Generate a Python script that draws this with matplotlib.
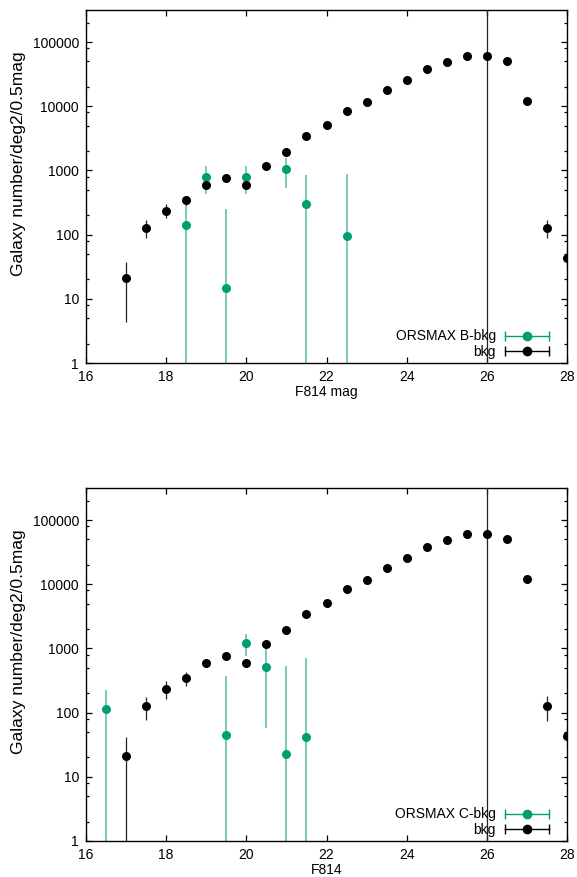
import numpy as np
import matplotlib
matplotlib.use("Agg")
import matplotlib.pyplot as plt
from matplotlib.lines import Line2D
from matplotlib.legend_handler import HandlerLine2D, HandlerTuple
from matplotlib.ticker import LogLocator, FixedLocator, NullFormatter

plt.rcParams['font.family'] = ['Liberation Sans', 'DejaVu Sans']
plt.rcParams['font.size'] = 10

# background counts (same magnitudes in both panels)
mag_bkg = [17, 17.5, 18, 18.5, 19, 19.5, 20, 20.5, 21, 21.5, 22, 22.5, 23,
           23.5, 24, 24.5, 25, 25.5, 26, 26.5, 27, 27.5, 28]
n_bkg = [21, 128, 237, 342, 600, 753, 600, 1170, 1920, 3400, 5200, 8300, 11600,
         17800, 26000, 38000, 49000, 60000, 61500, 50000, 12200, 128, 43]
# lower / upper error limits, top panel
bkg_lo_b = [4.4, 89, 182, 290, 520, 680, 520, 1070, 1780, 3200, 4950, 7950, 11200,
            17300, 25400, 37300, 48200, 59000, 0.01, 49200, 11600, 88, 30]
bkg_hi_b = [37.6, 168, 295, 400, 680, 830, 680, 1270, 2060, 3600, 5450, 8650, 12000,
            18300, 26600, 38700, 49800, 61000, 1e8, 50800, 12800, 170, 58]
# lower / upper error limits, bottom panel
bkg_lo_c = [0.01, 77, 165, 256, 505, 670, 505, 1070, 1780, 3200, 4950, 7950, 11200,
            17300, 25400, 37300, 48200, 59000, 0.01, 49200, 11600, 75, 30]
bkg_hi_c = [42, 178, 310, 432, 680, 840, 680, 1270, 2060, 3600, 5450, 8650, 12000,
            18300, 26600, 38700, 49800, 61000, 1e8, 50800, 12800, 183, 58]

# ORSMAX B - bkg
mag_b = [18.5, 19, 19.5, 20, 21, 21.5, 22.5]
n_b = [140, 800, 15, 800, 1040, 300, 95]
b_lo = [0.01, 425, 0.01, 425, 530, 0.01, 0.01]
b_hi = [300, 1160, 254, 1160, 1550, 840, 890]

# ORSMAX C - bkg
mag_c = [16.5, 19.5, 20, 20.5, 21, 21.5]
n_c = [112, 45, 1217, 523, 23, 41]
c_lo = [0.01, 0.01, 760, 57, 0.01, 0.01]
c_hi = [228, 375, 1700, 1100, 536, 720]

green = '#009e73'
green_bar = '#7ccbb3'

fig = plt.figure(figsize=(5.77, 8.77), dpi=100)


def legend_handle(color):
    # horizontal bar with end caps and a dot, gnuplot style
    bar = Line2D([], [], color=color, lw=1.0, marker='|', markersize=7,
                 markeredgewidth=1.0)
    dot = Line2D([], [], color=color, ls='none', marker='o', markersize=7,
                 markeredgewidth=0)
    return (bar, dot), {bar: HandlerLine2D(numpoints=2, marker_pad=0),
                        dot: HandlerLine2D(numpoints=1)}


def panel(rect, mag, n, lo, hi, label, blo, bhi, xlabel):
    ax = fig.add_axes(rect)
    ax.set_yscale('log', nonpositive='clip')
    n = np.array(n)
    yerr = [n - np.array(lo), np.array(hi) - n]
    ax.errorbar(mag, n, yerr=yerr, fmt='o', color=green, ecolor=green_bar,
                elinewidth=1.4, capsize=2.5, capthick=1.0, markersize=6.5,
                markeredgewidth=0, zorder=2)
    nb = np.array(n_bkg)
    byerr = [nb - np.array(blo), np.array(bhi) - nb]
    ax.errorbar(mag_bkg, nb, yerr=byerr, fmt='o', color='black', ecolor='#222222',
                elinewidth=0.9, capsize=2, capthick=0.9, markersize=6.5,
                markeredgewidth=0, zorder=3)

    h1, m1 = legend_handle(green)
    h2, m2 = legend_handle('black')
    hmap = {tuple: HandlerTuple(ndivide=1, pad=0)}
    hmap.update(m1)
    hmap.update(m2)
    ax.legend([h1, h2], [label, 'bkg'], loc='lower right',
              bbox_to_anchor=(0.963, 0.012), frameon=False, markerfirst=False,
              handlelength=3.15, handletextpad=0.7, labelspacing=0.1,
              borderpad=0, borderaxespad=0, handler_map=hmap, fontsize=10)

    ax.set_xlim(16, 28)
    ax.set_ylim(1, 10 ** 5.5)
    ax.set_xticks([16, 18, 20, 22, 24, 26, 28])
    ax.yaxis.set_major_locator(FixedLocator([1, 10, 100, 1000, 10000, 100000]))
    ax.set_yticklabels(['1', '10', '100', '1000', '10000', '100000'])
    ax.yaxis.set_minor_locator(LogLocator(base=10, subs=(2, 5, 8)))
    ax.yaxis.set_minor_formatter(NullFormatter())
    ax.tick_params(which='both', direction='in', top=True, right=True, width=0.9)
    ax.tick_params(which='major', length=4.5, pad=5)
    ax.tick_params(which='minor', length=2.5)
    for s in ax.spines.values():
        s.set_linewidth(1.0)
    ax.set_xlabel(xlabel, labelpad=1)
    ax.set_ylabel('Galaxy number/deg2/0.5mag', fontsize=12.5)
    ax.yaxis.set_label_coords(-0.125, 0.564)
    return ax


W = 577.0
H = 877.0
panel([86 / W, 1 - 363 / H, 481 / W, 353 / H], mag_b, n_b, b_lo, b_hi,
      'ORSMAX B-bkg', bkg_lo_b, bkg_hi_b, 'F814 mag')
panel([86 / W, 1 - 841 / H, 481 / W, 353 / H], mag_c, n_c, c_lo, c_hi,
      'ORSMAX C-bkg', bkg_lo_c, bkg_hi_c, 'F814')

fig.savefig('out.png', dpi=100)
